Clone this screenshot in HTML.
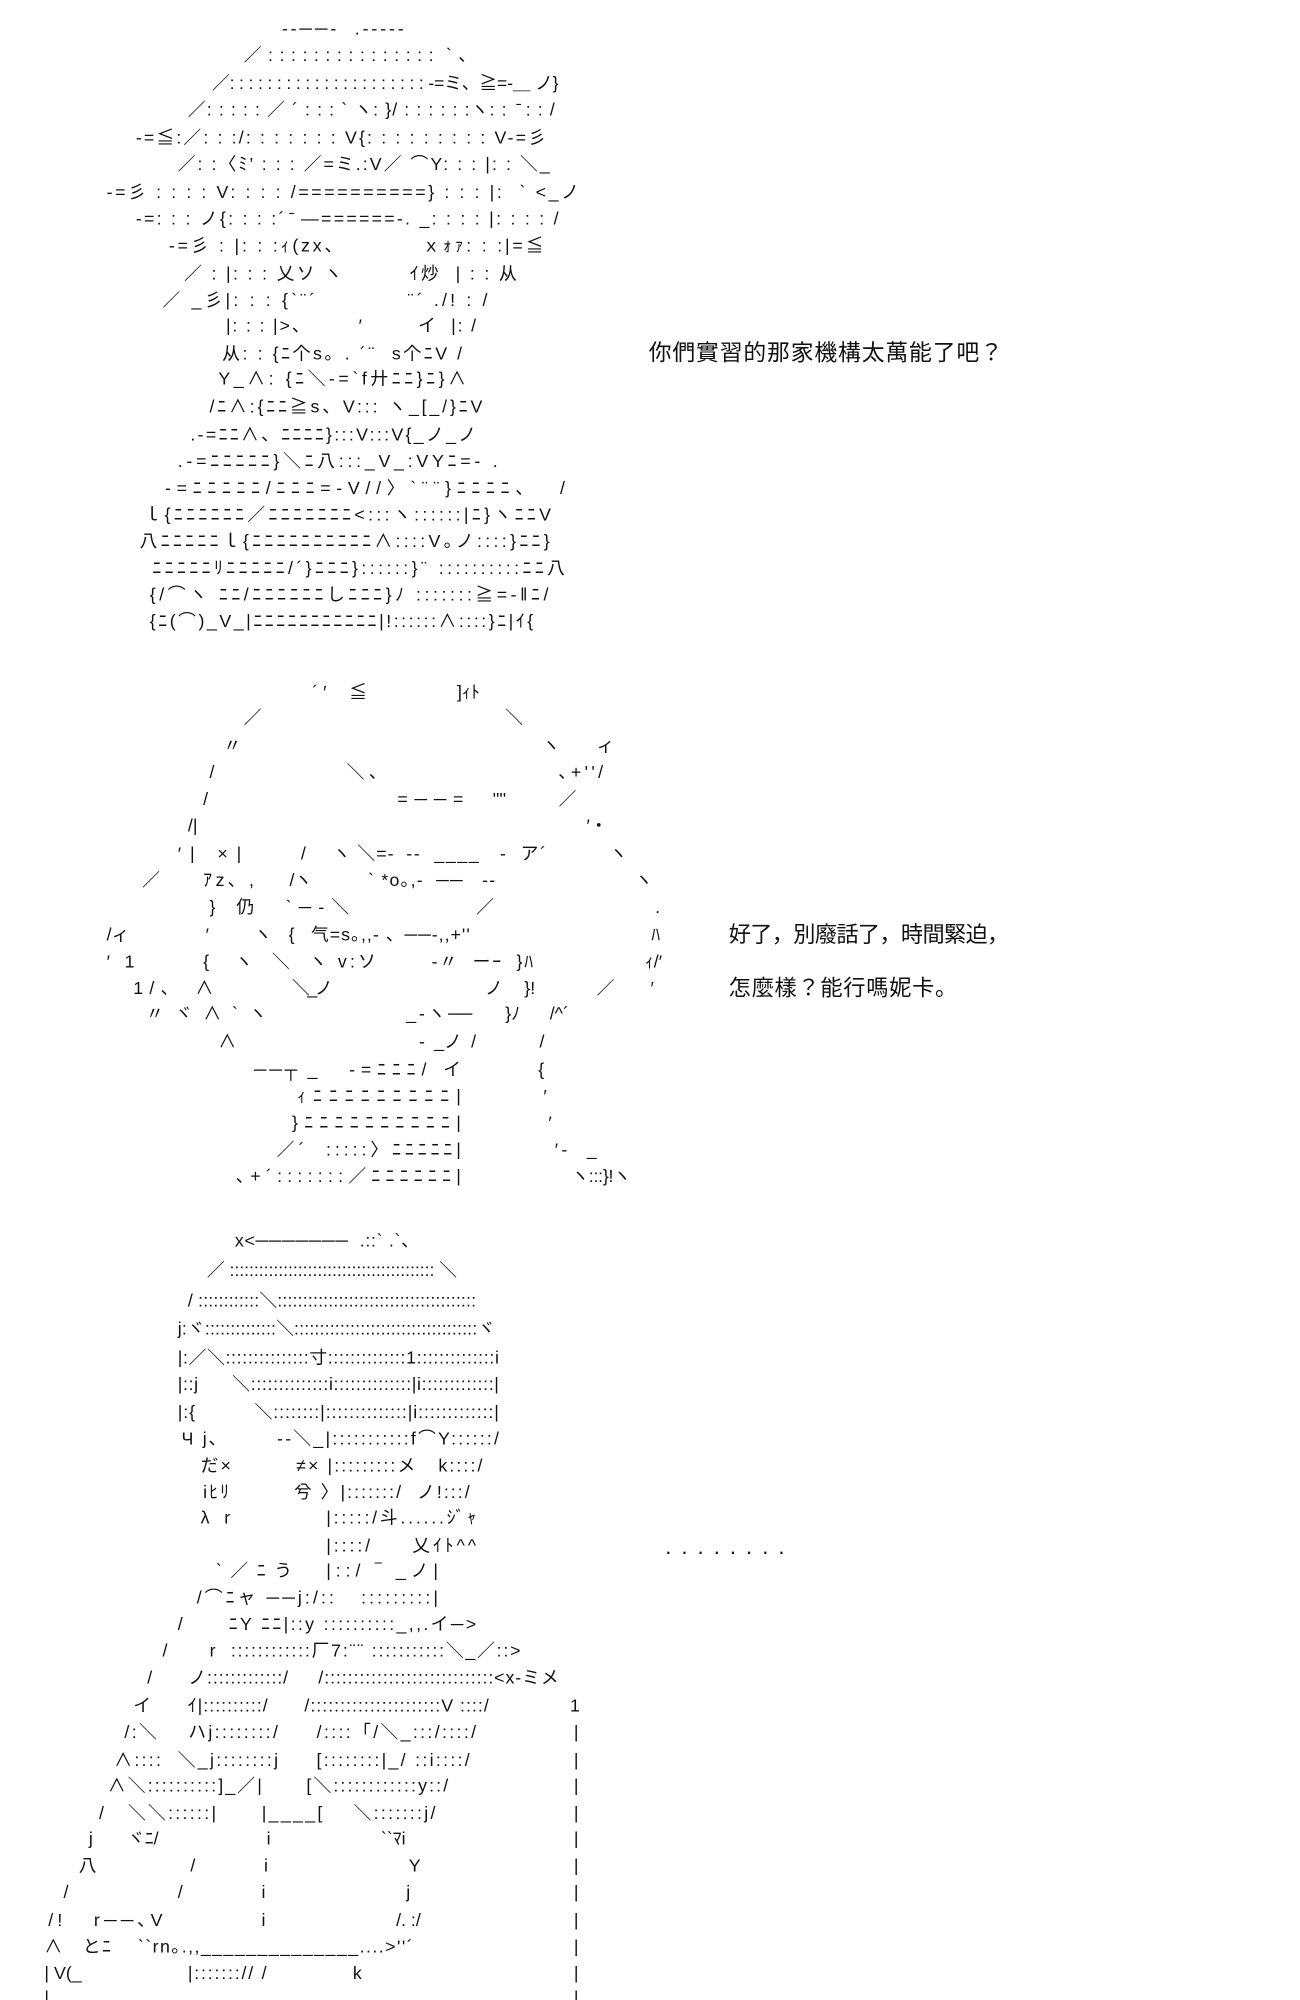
<!DOCTYPE html>
<html><head><meta charset="utf-8"><style>
html,body{margin:0;padding:0;background:#fff;}
svg{display:block;}
text{font-family:"Liberation Sans","Noto Sans CJK JP",sans-serif;fill:#111;white-space:pre;}
.a{font-size:14px;}
.d{font-size:17.5px;}
</style></head><body>
<svg width="1300" height="2000" viewBox="0 0 1024 1575.4" xmlns="http://www.w3.org/2000/svg" xml:space="preserve">
<g class="a">
<!-- Art 1 -->
<text x="222" y="27" textLength="96" lengthAdjust="spacing">-‐──-  .-‐-‐-</text>
<text x="192" y="48" textLength="183" lengthAdjust="spacing">／ : : : : : : : : : : : : : : :  ` 、</text>
<text x="167" y="70" textLength="273" lengthAdjust="spacing">／: : : : : : : : : : : : : : : : : : : : : -=ミ、≧=-＿ ノ}</text>
<text x="148" y="91" textLength="289" lengthAdjust="spacing">／: : : : : ／ ´ : : : ` ヽ: }/ : : : : : :ヽ: :  ̄ : : /</text>
<text x="107" y="113" textLength="323" lengthAdjust="spacing">-=≦:／: : :/: : : : : : : V{: : : : : : : : : V-=彡</text>
<text x="140" y="134" textLength="293" lengthAdjust="spacing">／: :〈ﾐ’ : : : ／=ミ.:V／ ⌒Y: : : |: : ＼_</text>
<text x="84" y="156" textLength="372" lengthAdjust="spacing">-=彡 : : : : V: : : : /==========} : : : |:  ` &lt;_ノ</text>
<text x="107" y="177" textLength="333" lengthAdjust="spacing">-=: : : ノ{: : : :´ ̄ ―======-. _: : : : |: : : : /</text>
<text x="133" y="198" textLength="295" lengthAdjust="spacing">-=彡 : |: : :ｨ(zx、          ｘｫｧ: : :|=≦</text>
<text x="145" y="220" textLength="262" lengthAdjust="spacing">／ : |: : : 乂ソ ヽ         ｲ炒  | : : 从</text>
<text x="128" y="241" textLength="256" lengthAdjust="spacing">／ _彡|: : : {`¨´           ¨´ ./! : /</text>
<text x="178" y="261" textLength="197" lengthAdjust="spacing">|: : : |&gt;、       ′        イ  |: /</text>
<text x="175" y="283" textLength="189" lengthAdjust="spacing">从: : {ﾆ个s。. ´¨  s个ﾆV /</text>
<text x="172" y="303" textLength="195" lengthAdjust="spacing">Y_∧: {ﾆ＼-=`f廾ﾆﾆ}ﾆ}∧</text>
<text x="165" y="325" textLength="215" lengthAdjust="spacing">/ﾆ∧:{ﾆﾆ≧s、V::: ヽ_[_/}ﾆV</text>
<text x="150" y="347" textLength="225" lengthAdjust="spacing">.-=ﾆﾆ∧、ﾆﾆﾆﾆ}:::V:::V{_ノ_ノ</text>
<text x="140" y="368" textLength="252" lengthAdjust="spacing">.-=ﾆﾆﾆﾆﾆ}＼ﾆ八:::_V_:VYﾆ=- .</text>
<text x="130" y="389" textLength="315" lengthAdjust="spacing">-=ﾆﾆﾆﾆﾆ/ﾆﾆﾆ=-V//〉`¨¨}ﾆﾆﾆﾆ、  /</text>
<text x="113" y="410" textLength="321" lengthAdjust="spacing">ｌ{ﾆﾆﾆﾆﾆﾆ／ﾆﾆﾆﾆﾆﾆﾆ&lt;:::ヽ::::::|ﾆ}ヽﾆﾆV</text>
<text x="110" y="431" textLength="323" lengthAdjust="spacing">八ﾆﾆﾆﾆﾆｌ{ﾆﾆﾆﾆﾆﾆﾆﾆﾆﾆ∧::::V｡ノ::::}ﾆﾆ}</text>
<text x="120" y="452" textLength="325" lengthAdjust="spacing">ﾆﾆﾆﾆﾆﾘﾆﾆﾆﾆﾆ/´}ﾆﾆﾆ}::::::}¨ ::::::::::ﾆﾆ八</text>
<text x="118" y="473" textLength="314" lengthAdjust="spacing">{/⌒ヽ ﾆﾆ/ﾆﾆﾆﾆﾆﾆしﾆﾆﾆ}ﾉ :::::::≧=-‖ﾆ/</text>
<text x="118" y="494" textLength="302" lengthAdjust="spacing">{ﾆ(⌒)_V_|ﾆﾆﾆﾆﾆﾆﾆﾆﾆﾆﾆ|!::::::∧::::}ﾆ|ｲ{</text>

<!-- Art 2 -->
<text x="246" y="550">´ ′</text>
<text x="275" y="550">≦</text>
<text x="360" y="550">]ｨﾄ</text>
<text x="192" y="570">／</text>
<text x="398" y="570">＼</text>
<text x="176" y="592">〃</text>
<text x="427" y="592">ヽ</text>
<text x="470" y="592">ィ</text>
<text x="165" y="613">/</text>
<text x="273" y="613">＼ ､</text>
<text x="440" y="613" textLength="35" lengthAdjust="spacing">､+''/</text>
<text x="160" y="634">/</text>
<text x="313" y="634" textLength="52" lengthAdjust="spacing">=──=</text>
<text x="388" y="634">''''</text>
<text x="440" y="634">／</text>
<text x="148" y="655">/|</text>
<text x="462" y="655">′・</text>
<text x="140" y="677" textLength="50" lengthAdjust="spacing">′| ×|</text>
<text x="237" y="677">/</text>
<text x="262" y="677" textLength="48" lengthAdjust="spacing">ヽ ＼=-</text>
<text x="320" y="677" textLength="110" lengthAdjust="spacing">--  ____   -  ア´</text>
<text x="480" y="677">ヽ</text>
<text x="112" y="698">／</text>
<text x="160" y="698" textLength="40" lengthAdjust="spacing">ｱz､ ,</text>
<text x="228" y="698">/ヽ</text>
<text x="290" y="698" textLength="100" lengthAdjust="spacing">` *o｡,-  ──   --</text>
<text x="500" y="698">ヽ</text>
<text x="165" y="719" textLength="35" lengthAdjust="spacing">} 仍</text>
<text x="225" y="719" textLength="50" lengthAdjust="spacing">`─‐＼</text>
<text x="375" y="719">／</text>
<text x="516" y="719">.</text>
<text x="84" y="741">/ィ</text>
<text x="162" y="741">′</text>
<text x="200" y="741" textLength="32" lengthAdjust="spacing">ヽ  {</text>
<text x="245" y="741" textLength="125" lengthAdjust="spacing">气=s｡,,- 、──-,,+''</text>
<text x="513" y="741">ﾊ</text>
<text x="84" y="762" textLength="22" lengthAdjust="spacing">′  1</text>
<text x="160" y="762">{</text>
<text x="185" y="762" textLength="111" lengthAdjust="spacing">ヽ  ＼  ヽ v:ソ</text>
<text x="340" y="762" textLength="80" lengthAdjust="spacing">-〃  ーｰ  }ﾊ</text>
<text x="508" y="762">ｨ/′</text>
<text x="105" y="783" textLength="63" lengthAdjust="spacing">1/、 ∧</text>
<text x="230" y="783" textLength="32" lengthAdjust="spacing">＼_ノ</text>
<text x="382" y="783">ノ</text>
<text x="413" y="783">}!</text>
<text x="470" y="783" textLength="45" lengthAdjust="spacing">／  ′</text>
<text x="115" y="803" textLength="95" lengthAdjust="spacing">〃 ヾ ∧ ` ヽ</text>
<text x="320" y="803" textLength="52" lengthAdjust="spacing">_ ‐ ヽ ──</text>
<text x="398" y="803">}ﾉ</text>
<text x="433" y="803">/^´</text>
<text x="172" y="825">∧</text>
<text x="330" y="825" textLength="45" lengthAdjust="spacing">-  _ノ  /</text>
<text x="425" y="825">/</text>
<text x="200" y="847" textLength="50" lengthAdjust="spacing">──┬ _</text>
<text x="275" y="847" textLength="88" lengthAdjust="spacing">-=ﾆﾆﾆ/ イ</text>
<text x="424" y="847">{</text>
<text x="234" y="868" textLength="129" lengthAdjust="spacing">ｨﾆﾆﾆﾆﾆﾆﾆﾆﾆ|</text>
<text x="428" y="868">′</text>
<text x="230" y="889" textLength="133" lengthAdjust="spacing">}ﾆﾆﾆﾆﾆﾆﾆﾆﾆﾆ|</text>
<text x="432" y="889">′</text>
<text x="218" y="910" textLength="145" lengthAdjust="spacing">／´  :::::〉ﾆﾆﾆﾆﾆ|</text>
<text x="437" y="910" textLength="33" lengthAdjust="spacing">′-  _</text>
<text x="186" y="931" textLength="177" lengthAdjust="spacing">､+´:::::::／ﾆﾆﾆﾆﾆﾆ|</text>
<text x="450" y="931" textLength="47" lengthAdjust="spacing">ヽ:::}!ヽ</text>

<!-- Art 3 -->
<text x="185" y="982" textLength="145" lengthAdjust="spacing">x&lt;───────  .::` .`、</text>
<text x="163" y="1005" textLength="197" lengthAdjust="spacing">／ :::::::::::::::::::::::::::::::::::::::::: ＼</text>
<text x="148" y="1029" textLength="227" lengthAdjust="spacing">/ ::::::::::::＼:::::::::::::::::::::::::::::::::::::::</text>
<text x="140" y="1051" textLength="250" lengthAdjust="spacing">j:ヾ::::::::::::::＼::::::::::::::::::::::::::::::::::::ヾ</text>
<text x="140" y="1074" textLength="253" lengthAdjust="spacing">|:／＼:::::::::::::::寸::::::::::::::1::::::::::::::i</text>
<text x="140" y="1095" textLength="253" lengthAdjust="spacing">|::j      ＼::::::::::::::i::::::::::::::|i:::::::::::::|</text>
<text x="140" y="1117" textLength="253" lengthAdjust="spacing">|:{          ＼::::::::|::::::::::::::|i:::::::::::::|</text>
<text x="143" y="1138" textLength="250" lengthAdjust="spacing">Ч j､        --＼_|:::::::::::f⌒Y::::::/</text>
<text x="158" y="1159" textLength="222" lengthAdjust="spacing">だ×         ≠× |:::::::::メ   k::::/</text>
<text x="160" y="1180" textLength="210" lengthAdjust="spacing">iﾋﾘ         兮 〉|:::::::/  ノ!:::/</text>
<text x="158" y="1200">λ   r</text>
<text x="257" y="1200" textLength="118" lengthAdjust="spacing">|:::::/斗......ｼﾞｬ</text>
<text x="257" y="1222" textLength="118" lengthAdjust="spacing">|::::/     乂ｲﾄ^^</text>
<text x="170" y="1242" textLength="60" lengthAdjust="spacing">`／ﾆう</text>
<text x="257" y="1242" textLength="88" lengthAdjust="spacing">|::/ ‾ _ノ|</text>
<text x="155" y="1263" textLength="190" lengthAdjust="spacing">/⌒ﾆャ ──j:/::   :::::::::|</text>
<text x="140" y="1284" textLength="235" lengthAdjust="spacing">/      ﾆY ﾆﾆ|::y ::::::::::_,,.イ─&gt;</text>
<text x="128" y="1305" textLength="282" lengthAdjust="spacing">/      r  ::::::::::::厂7:¨¨ :::::::::::＼_／::&gt;</text>
<text x="116" y="1326" textLength="324" lengthAdjust="spacing">/      ノ:::::::::::::/     /:::::::::::::::::::::::::::::&lt;x-ミメ</text>
<text x="105" y="1348" textLength="280" lengthAdjust="spacing">イ      ｲ|::::::::::/      /::::::::::::::::::::::V ::::/</text>
<text x="98" y="1369" textLength="277" lengthAdjust="spacing">/:＼    ハj::::::::/     /::::「/＼_:::/::::/</text>
<text x="90" y="1391" textLength="280" lengthAdjust="spacing">∧::::  ＼_j::::::::j     [::::::::|_/ ::i::::/</text>
<text x="85" y="1411" textLength="268" lengthAdjust="spacing">∧＼::::::::::]_／|      [＼::::::::::::y::/</text>
<text x="78" y="1433" textLength="265" lengthAdjust="spacing">/   ＼＼::::::|      |____[    ＼:::::::j/</text>
<text x="70" y="1453">j</text><text x="100" y="1453">ヾﾆ/</text><text x="210" y="1453">i</text><text x="300" y="1453">``ﾏi</text>
<text x="62" y="1474">八</text><text x="150" y="1474">/</text><text x="208" y="1474">i</text><text x="322" y="1474">Y</text>
<text x="50" y="1495">/</text><text x="140" y="1495">/</text><text x="206" y="1495">i</text><text x="320" y="1495">j</text>
<text x="38" y="1517" textLength="90" lengthAdjust="spacing">/!   r──､V</text><text x="206" y="1517">i</text><text x="312" y="1517">/. :/</text>
<text x="35" y="1538" textLength="290" lengthAdjust="spacing">∧   とﾆ    ``rn｡.,,______________....&gt;''´</text>
<text x="35" y="1559">| V(_</text><text x="148" y="1559" textLength="62" lengthAdjust="spacing">|:::::::// /</text><text x="278" y="1559">k</text>
<text x="35" y="1578">|</text>
<text x="449" y="1348">1</text>
<text x="452" y="1369">|</text><text x="452" y="1391">|</text><text x="452" y="1411">|</text>
<text x="452" y="1433">|</text><text x="452" y="1453">|</text><text x="452" y="1474">|</text>
<text x="452" y="1495">|</text><text x="452" y="1517">|</text><text x="452" y="1538">|</text>
<text x="452" y="1559">|</text><text x="452" y="1578">|</text>
</g>
<g class="d">
<text x="511" y="284" textLength="279" lengthAdjust="spacing" style="font-size:18px">你們實習的那家機構太萬能了吧？</text>
<text x="574" y="742" textLength="221" lengthAdjust="spacing">好了，別廢話了，時間緊迫，</text>
<text x="574" y="784" textLength="180" lengthAdjust="spacing">怎麼樣？能行嗎妮卡。</text>
<text x="524" y="1224" textLength="94" lengthAdjust="spacing">. . . . . . . .</text>
</g>
</svg>
</body></html>
